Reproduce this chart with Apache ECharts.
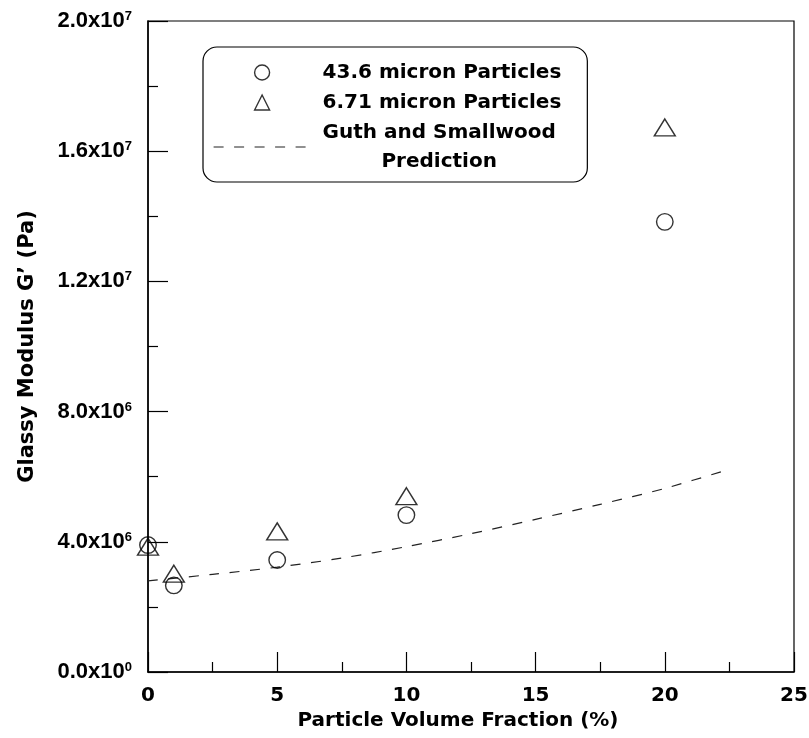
<!DOCTYPE html>
<html>
<head>
<meta charset="utf-8">
<script src="https://cdn.jsdelivr.net/npm/echarts@6/dist/echarts.min.js"></script>
<style>
html,body{margin:0;padding:0;background:#fff;}
#chart{width:809px;height:738px;}
</style>
</head>
<body>
<div id="chart"></div>
<script>
// ---- data ----
var seriesNames = ['43.6 micron Particles', '6.71 micron Particles', 'Guth and Smallwood Prediction'];
var largeX = [0, 1, 5, 10, 20];
var largeY = [3.9e6, 2.66e6, 3.44e6, 4.82e6, 1.383e7];
var smallX = [0, 1, 5, 10, 20];
var smallY = [3.85e6, 3.02e6, 4.32e6, 5.40e6, 1.673e7];
var predX = [0, 2.5, 5, 7.5, 10, 12.5, 15, 17.5, 20, 22.5];
var predY = [2.80e6, 3.0e6, 3.22e6, 3.5e6, 3.85e6, 4.25e6, 4.69e6, 5.15e6, 5.64e6, 6.23e6];
var yTickMantissa = ['0.0', '4.0', '8.0', '1.2', '1.6', '2.0'];
var yTickExp = ['0', '6', '6', '7', '7', '7'];
var xTickLabels = ['0', '5', '10', '15', '20', '25'];
var xTitle = 'Particle Volume Fraction (%)';
var yTitle = 'Glassy Modulus G\u2019 (Pa)';

function pairs(xs, ys) { return xs.map(function (x, i) { return [x, ys[i]]; }); }

var chart = echarts.init(document.getElementById('chart'), null, {renderer: 'canvas'});
var boldSans = 'DejaVu Sans';
var option = {
  animation: false,
  backgroundColor: '#fff',
  grid: {
    left: 148, right: 15, top: 21, bottom: 66,
    containLabel: false, outerBoundsMode: 'none',
    show: true, borderColor: '#000', borderWidth: 1.2, backgroundColor: 'transparent'
  },
  legend: {
    show: true,
    orient: 'vertical',
    left: 203, top: 47,
    padding: [11, 26, 6, 10],
    itemWidth: 97, itemHeight: 15, itemGap: 1,
    selectedMode: false,
    backgroundColor: '#fff',
    borderColor: '#000', borderWidth: 1.2, borderRadius: 14,
    itemStyle: {borderWidth: 1.4},
    lineStyle: {width: 1.2},
    textStyle: {
      fontFamily: boldSans, fontWeight: 'bold', fontSize: 20, color: '#000',
      lineHeight: 29, padding: [0, 0, 0, 7],
      rich: {
        a: {fontFamily: boldSans, fontWeight: 'bold', fontSize: 20, color: '#000', lineHeight: 29, align: 'left'},
        c: {fontFamily: boldSans, fontWeight: 'bold', fontSize: 20, color: '#000', lineHeight: 29, align: 'center'}
      }
    },
    formatter: function (name) {
      if (name === seriesNames[2]) return '{a|Guth and Smallwood}\n{c|Prediction}';
      return name;
    },
    data: [
      {name: seriesNames[0]},
      {name: seriesNames[1], icon: 'path://M0,13L6.5,0L13,13Z'},
      {name: seriesNames[2], itemStyle: {opacity: 0, color: 'rgba(0,0,0,0)', borderWidth: 0}}
    ]
  },
  xAxis: {
    type: 'value', min: 0, max: 25, interval: 5,
    name: xTitle, nameLocation: 'middle', nameGap: 37,
    nameTextStyle: {fontFamily: boldSans, fontWeight: 'bold', fontSize: 20, color: '#000', padding: [0, 26, 0, 0]},
    axisLine: {show: true, onZero: false, lineStyle: {color: '#000', width: 1.5}},
    axisTick: {show: true, inside: true, length: 20, lineStyle: {color: '#000', width: 1.2}},
    minorTick: {show: true, splitNumber: 2, length: 10, lineStyle: {color: '#000', width: 1.2}},
    splitLine: {show: false}, minorSplitLine: {show: false},
    axisLabel: {
      show: true, margin: 14, color: '#000', fontFamily: boldSans, fontWeight: 'bold', fontSize: 20,
      formatter: function (v, i) { return xTickLabels[Math.round(v / 5)]; }
    }
  },
  yAxis: {
    type: 'value', min: 0, max: 2e7, interval: 4e6,
    name: yTitle, nameLocation: 'middle', nameGap: 110,
    nameTextStyle: {fontFamily: boldSans, fontWeight: 'bold', fontSize: 21, color: '#000'},
    axisLine: {show: true, onZero: false, lineStyle: {color: '#000', width: 1.5}},
    axisTick: {show: true, inside: true, length: 20, lineStyle: {color: '#000', width: 1.2}},
    minorTick: {show: true, splitNumber: 2, length: 10, lineStyle: {color: '#000', width: 1.2}},
    splitLine: {show: false}, minorSplitLine: {show: false},
    axisLabel: {
      show: true, margin: 16, color: '#000',
      fontFamily: 'Liberation Sans', fontWeight: 'bold', fontSize: 22,
      formatter: function (v) {
        var i = Math.round(v / 4e6);
        return '{m|' + yTickMantissa[i] + 'x10}{s|' + yTickExp[i] + '}';
      },
      rich: {
        m: {fontFamily: 'Liberation Sans', fontWeight: 'bold', fontSize: 22, color: '#000'},
        s: {fontFamily: 'Liberation Sans', fontWeight: 'bold', fontSize: 13, color: '#000', verticalAlign: 'top'}
      }
    }
  },
  series: [
    {
      name: seriesNames[0], type: 'scatter', data: pairs(largeX, largeY),
      symbol: 'circle', symbolSize: 16.5, clip: false,
      itemStyle: {color: 'rgba(0,0,0,0)', borderColor: '#000', borderWidth: 1.4},
      emphasis: {disabled: true}, z: 3
    },
    {
      name: seriesNames[1], type: 'scatter', data: pairs(smallX, smallY),
      symbol: 'triangle', symbolSize: [21, 17], clip: false,
      itemStyle: {color: 'rgba(0,0,0,0)', borderColor: '#000', borderWidth: 1.4},
      emphasis: {disabled: true}, z: 3
    },
    {
      name: seriesNames[2], type: 'line', data: pairs(predX, predY),
      symbol: 'none', showSymbol: false, smooth: 0.3, clip: false,
      lineStyle: {color: '#222', width: 1.2, type: [10, 10.5]},
      itemStyle: {color: '#222'},
      emphasis: {disabled: true}, z: 2
    }
  ]
};
chart.setOption(option);
</script>
</body>
</html>
